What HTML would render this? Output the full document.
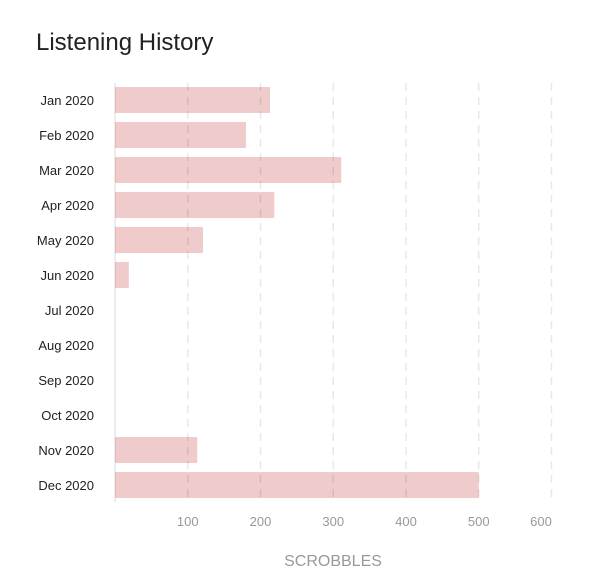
<!DOCTYPE html>
<html><head><meta charset="utf-8"><style>
body{margin:0;background:#fff;width:607px;height:580px;overflow:hidden;font-family:"Liberation Sans",sans-serif}
</style></head><body>
<svg width="607" height="580">
<text x="36" y="50" font-size="24" fill="#222">Listening History</text>
<g id="bars"></g><g id="grid"></g><g id="ylabels"></g><g id="xlabels"></g>
<text x="333" y="566" font-size="16" fill="#999" text-anchor="middle">SCROBBLES</text>
</svg>
<script>
const categories=["Jan 2020","Feb 2020","Mar 2020","Apr 2020","May 2020","Jun 2020","Jul 2020","Aug 2020","Sep 2020","Oct 2020","Nov 2020","Dec 2020"];
const values=[213,180,311,219,121,19,0,0,0,0,113,500];
const ticks=[100,200,300,400,500,600];
const NS="http://www.w3.org/2000/svg";
const x=v=>115+v*0.7275;
const y=i=>100+i*35;
function mk(t,a,p){const e=document.createElementNS(NS,t);for(const k in a)e.setAttribute(k,a[k]);document.getElementById(p).appendChild(e);return e;}
const base=mk('line',{x1:115,x2:115,y1:83,y2:502,stroke:'#000','stroke-opacity':0.07,'stroke-width':2},'grid');


ticks.forEach(t=>{
 const l=mk('line',{x1:x(t),x2:x(t),y1:83,y2:502,stroke:'#000','stroke-opacity':0.09,'stroke-width':1.5,'stroke-dasharray':'8,6'},'grid');
 
 
 const tx=mk('text',{x:t===600?541:x(t),y:526,'font-size':13,fill:'#999','text-anchor':'middle'},'xlabels');
 tx.textContent=t;
 
 
});
categories.forEach((c,i)=>{
 if(values[i]>0){
 const r=mk('rect',{x:115,y:y(i)-13,width:x(values[i])-115,height:26,fill:'#efcbcb'},'bars');
 
 
 }
 const t=mk('text',{x:94,y:y(i)+5,'font-size':13,fill:'#222','text-anchor':'end'},'ylabels');
 t.textContent=c;
 
 
});
</script>
</body></html>
